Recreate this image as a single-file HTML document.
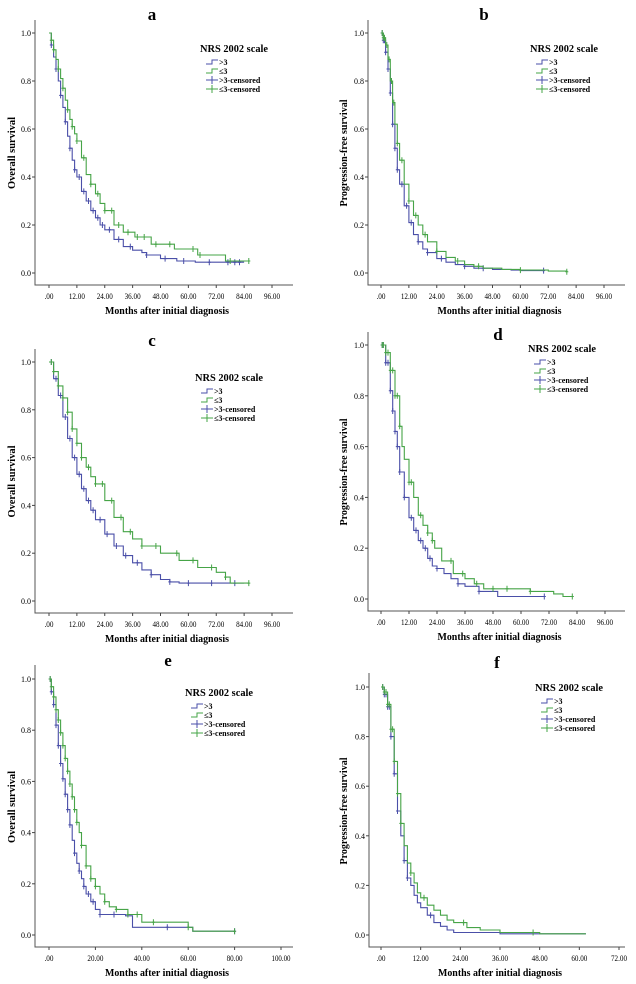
<!DOCTYPE html>
<html><head><meta charset="utf-8">
<style>
html,body{margin:0;padding:0;background:#fff;}
svg{display:block;font-family:"Liberation Serif",serif;}
</style></head>
<body>
<svg id="chart" width="636" height="984" viewBox="0 0 636 984" xmlns="http://www.w3.org/2000/svg"></svg>
<script>
// ---- data (time in months, survival probability) ----
const yTicks = ["0.0","0.2","0.4","0.6","0.8","1.0"];
const yTickVals = [0,0.2,0.4,0.6,0.8,1.0];
const xTicks96 = [0,12,24,36,48,60,72,84,96];
const xTicks100 = [0,20,40,60,80,100];
const xTicks72 = [0,12,24,36,48,60,72];

const aBlueT = [0,1,2,3,4,5,6,7,8,9,10,11,12,14,16,18,20,22,24,28,32,36,40,42,48,55,63,84];
const aBlueS = [1,0.95,0.9,0.85,0.8,0.74,0.69,0.63,0.57,0.52,0.47,0.43,0.4,0.34,0.3,0.26,0.23,0.2,0.18,0.14,0.11,0.095,0.085,0.075,0.06,0.05,0.045,0.045];
const aGreenT = [0,1,2,3,4,5,6,7,8,9,10,11,12,14,16,18,20,22,24,28,32,37,44,54,64,76,86];
const aGreenS = [1,0.97,0.93,0.89,0.85,0.81,0.77,0.72,0.68,0.64,0.61,0.58,0.55,0.48,0.41,0.37,0.33,0.29,0.26,0.2,0.17,0.15,0.12,0.1,0.075,0.05,0.05];
const aBlueC = [1,3,5,7,9,11,13,15,17,19,21,23,26,30,35,42,50,58,69,77,80,82];
const aGreenC = [1,2,4,6,8,10,12,15,18,21,24,27,30,34,38,41,46,52,62,65,78,86];

const bBlueT = [0,1,2,3,4,5,6,7,8,10,12,14,16,18,20,24,28,32,36,40,48,56,60,70];
const bBlueS = [1,0.97,0.92,0.85,0.75,0.62,0.52,0.43,0.37,0.28,0.21,0.16,0.13,0.1,0.085,0.06,0.045,0.035,0.028,0.02,0.015,0.012,0.01,0.01];
const bGreenT = [0,1,2,3,4,5,6,7,8,10,12,14,16,18,20,24,28,32,36,40,44,52,60,72,80];
const bGreenS = [1,0.98,0.95,0.89,0.8,0.71,0.62,0.54,0.47,0.37,0.3,0.24,0.2,0.16,0.13,0.09,0.065,0.05,0.035,0.028,0.02,0.015,0.012,0.008,0.005];
const bBlueC = [0.5,1,1.5,2,3,4,5,6,7,9,11,13,16,20,26,36,44,70];
const bGreenC = [0.5,1,1.5,2.5,3.5,4.5,5.5,7,9,12,15,19,24,33,42,60,80];

const cBlueT = [0,2,4,6,8,10,12,14,16,18,20,24,28,32,36,40,44,48,52,56,84];
const cBlueS = [1,0.93,0.86,0.77,0.68,0.6,0.53,0.47,0.42,0.38,0.34,0.28,0.23,0.19,0.16,0.13,0.11,0.09,0.08,0.075,0.075];
const cGreenT = [0,2,4,6,8,10,12,14,16,18,20,24,28,32,36,40,48,56,64,72,76,78,86];
const cGreenS = [1,0.96,0.9,0.85,0.79,0.72,0.66,0.6,0.56,0.52,0.49,0.42,0.35,0.29,0.26,0.23,0.2,0.17,0.14,0.12,0.1,0.075,0.075];
const cBlueC = [1,3,5,7,9,11,13,15,17,19,22,25,29,33,38,44,52,60,70,80];
const cGreenC = [1,2,4,6,8,10,12,14,17,20,23,27,31,35,40,46,55,62,70,76,86];

const dBlueT = [0,2,4,5,6,7,8,10,12,14,16,18,20,22,24,27,30,33,36,42,50,70];
const dBlueS = [1,0.93,0.82,0.74,0.66,0.6,0.5,0.4,0.32,0.27,0.23,0.2,0.16,0.13,0.12,0.1,0.08,0.06,0.05,0.03,0.01,0.01];
const dGreenT = [0,2,4,6,8,9,10,12,14,16,18,20,22,23,26,31,36,40,44,64,72,74,78,82];
const dGreenS = [1,0.97,0.9,0.8,0.68,0.6,0.55,0.46,0.4,0.33,0.29,0.26,0.23,0.2,0.15,0.1,0.08,0.06,0.04,0.03,0.03,0.02,0.01,0.01];
const dBlueC = [0.5,1,2,3,4,5,6,7,8,10,13,15,17,19,21,24,33,42,70];
const dGreenC = [0.5,1,2,3,4,5,6,7,8,12,13,17,20,22,30,35,41,48,54,64,82];

const eBlueT = [0,1,2,3,4,5,6,7,8,9,10,11,12,13,14,15,16,18,20,22,33,36,62,80];
const eBlueS = [1,0.95,0.9,0.82,0.74,0.67,0.61,0.55,0.49,0.43,0.37,0.32,0.28,0.25,0.22,0.19,0.16,0.13,0.1,0.08,0.075,0.03,0.015,0.015];
const eGreenT = [0,1,2,3,4,5,6,7,8,9,10,11,12,13,14,16,18,20,22,24,26,29,34,40,57,60,62,80];
const eGreenS = [1,0.97,0.93,0.88,0.84,0.79,0.74,0.69,0.64,0.59,0.54,0.49,0.44,0.4,0.35,0.27,0.22,0.19,0.16,0.13,0.11,0.1,0.08,0.05,0.05,0.03,0.015,0.015];
const eBlueC = [0.5,1,2,3,4,5,6,7,8,9,11,13,15,17,19,22,28,51,80];
const eGreenC = [0.5,1,2,3,4,5,6,7,8,9,10,11,12,14,16,18,20,24,29,34,38,45,60,80];

const fBlueT = [0,1,2,3,4,5,6,7,8,9,10,11,12,14,16,18,20,22,36,62];
const fBlueS = [1,0.97,0.92,0.8,0.65,0.5,0.4,0.3,0.23,0.2,0.16,0.13,0.11,0.08,0.05,0.035,0.02,0.01,0.005,0.005];
const fGreenT = [0,1,2,3,4,5,6,7,8,9,10,11,12,14,16,18,20,22,26,30,36,48,62];
const fGreenS = [1,0.98,0.93,0.83,0.7,0.57,0.45,0.36,0.29,0.25,0.21,0.17,0.15,0.12,0.1,0.08,0.06,0.05,0.03,0.02,0.01,0.005,0.005];
const fBlueC = [0.5,1,1.5,2,2.5,3,4,5,7,8,15];
const fGreenC = [0.5,1,1.5,2,2.5,3,3.5,4,5,6,9,13,25,46];

// ---- layout ----
const NS = "http://www.w3.org/2000/svg";
const svg = document.getElementById('chart');
const BLUE = "#4a4fa8", GREEN = "#46a447";

const panels = [
 {id:'a', title:'a', tx:152, ty:20, ylab:'Overall survival', ylx:11, x0:49, xs:223/96, xmax:96, ticks:xTicks96, yTop:33, yBot:273, axL:35, axR:293, axTop:20, lx:200, ly:49, bT:aBlueT,bS:aBlueS,gT:aGreenT,gS:aGreenS,bC:aBlueC,gC:aGreenC},
 {id:'b', title:'b', tx:484, ty:20, ylab:'Progression-free survival', ylx:343, x0:381, xs:223/96, xmax:96, ticks:xTicks96, yTop:33, yBot:273, axL:368, axR:625, axTop:20, lx:530, ly:49, bT:bBlueT,bS:bBlueS,gT:bGreenT,gS:bGreenS,bC:bBlueC,gC:bGreenC},
 {id:'c', title:'c', tx:152, ty:346, ylab:'Overall survival', ylx:11, x0:49, xs:223/96, xmax:96, ticks:xTicks96, yTop:362, yBot:601, axL:35, axR:293, axTop:349, lx:195, ly:378, bT:cBlueT,bS:cBlueS,gT:cGreenT,gS:cGreenS,bC:cBlueC,gC:cGreenC},
 {id:'d', title:'d', tx:498, ty:340, ylab:'Progression-free survival', ylx:343, x0:381, xs:224/96, xmax:96, ticks:xTicks96, yTop:345, yBot:599, axL:368, axR:625, axTop:332, lx:528, ly:349, bT:dBlueT,bS:dBlueS,gT:dGreenT,gS:dGreenS,bC:dBlueC,gC:dGreenC},
 {id:'e', title:'e', tx:168, ty:666, ylab:'Overall survival', ylx:11, x0:49, xs:232/100, xmax:100, ticks:xTicks100, yTop:679, yBot:935, axL:35, axR:293, axTop:665, lx:185, ly:693, bT:eBlueT,bS:eBlueS,gT:eGreenT,gS:eGreenS,bC:eBlueC,gC:eGreenC},
 {id:'f', title:'f', tx:497, ty:668, ylab:'Progression-free survival', ylx:343, x0:381, xs:238/72, xmax:72, ticks:xTicks72, yTop:687, yBot:935, axL:369, axR:625, axTop:673, lx:535, ly:688, bT:fBlueT,bS:fBlueS,gT:fGreenT,gS:fGreenS,bC:fBlueC,gC:fGreenC}
];

function mk(tag, attrs, parent){
  const el = document.createElementNS(NS, tag);
  for (const k in attrs) el.setAttribute(k, attrs[k]);
  (parent||svg).appendChild(el);
  return el;
}
function survAt(T,S,t){ let s=S[0]; for(let i=0;i<T.length;i++){ if(T[i]<=t) s=S[i]; } return s; }

panels.forEach(p=>{
  const X = t => p.x0 + t*p.xs;
  const Y = s => p.yBot - s*(p.yBot-p.yTop);
  const g = mk('g', {});
  
  

  const title = mk('text', {x:p.tx, y:p.ty, 'font-size':17, 'font-weight':'bold', 'text-anchor':'middle'}, g);
  title.textContent = p.title;
  
  

  // axes
  const axY = p.yBot + 12;
  const ax = mk('path', {d:`M${p.axL} ${p.axTop} V${axY} H${p.axR}`, stroke:'#555', fill:'none', 'stroke-width':1}, g);
  
  

  yTickVals.forEach((v,i)=>{
    const yy = Y(v);
    mk('line', {x1:p.axL-3, x2:p.axL, y1:yy, y2:yy, stroke:'#444'}, g);
    const t = mk('text', {x:p.axL-4, y:yy+3, 'font-size':8, 'text-anchor':'end'}, g);
    t.textContent = yTicks[i];
    
    
  });
  p.ticks.forEach(v=>{
    const xx = X(v);
    mk('line', {x1:xx, x2:xx, y1:axY, y2:axY+3, stroke:'#444'}, g);
    const t = mk('text', {x:xx, y:axY+14, 'font-size':8, 'text-anchor':'middle', textLength:(v===0?9:v>=100?19:16), lengthAdjust:'spacingAndGlyphs'}, g);
    t.textContent = (v===0?'':'') + (v===0?'.00':v.toFixed(2));
    
    
  });
  const xl = mk('text', {x:(p.axL+p.axR)/2+3, y:p.yBot+41, 'font-size':11, 'font-weight':'bold', 'text-anchor':'middle', textLength:124, lengthAdjust:'spacingAndGlyphs'}, g);
  xl.textContent = 'Months after initial diagnosis';
  
  
  const cy = (p.yTop+p.yBot)/2;
  const ylen = p.ylab.length>20 ? 107 : 72;
  const yl = mk('text', {x:0, y:0, transform:`translate(${p.ylx+4},${cy}) rotate(-90)`, 'font-size':11, 'font-weight':'bold', 'text-anchor':'middle', textLength:ylen, lengthAdjust:'spacingAndGlyphs'}, g);
  yl.textContent = p.ylab;
  
  

  // curves
  [[p.bT,p.bS,p.bC,BLUE,'gt3'],[p.gT,p.gS,p.gC,GREEN,'le3']].forEach(([T,S,C,col,nm])=>{
    let d = `M${X(T[0]).toFixed(1)} ${Y(S[0]).toFixed(1)}`;
    for(let i=1;i<T.length;i++) d += ` H${X(T[i]).toFixed(1)} V${Y(S[i]).toFixed(1)}`;
    const path = mk('path', {d, stroke:col, fill:'none', 'stroke-width':1.1}, g);
    
    
    C.forEach(c=>{
      const xx = X(c), yy = Y(survAt(T,S,c));
      const m = mk('path', {d:`M${xx.toFixed(1)} ${(yy-3).toFixed(1)} V${(yy+3).toFixed(1)} M${(xx-1.5).toFixed(1)} ${yy.toFixed(1)} H${(xx+1.5).toFixed(1)}`, stroke:col, 'stroke-width':1}, g);
      
      
    });
  });

  // legend
  const lg = mk('g', {}, g);
  
  
  const lt = mk('text', {x:p.lx, y:p.ly+3, 'font-size':10, 'font-weight':'bold', textLength:68, lengthAdjust:'spacingAndGlyphs'}, lg);
  lt.textContent = 'NRS 2002 scale';
  
  
  const labels = ['>3','≤3','>3-censored','≤3-censored'];
  const cols = [BLUE,GREEN,BLUE,GREEN];
  labels.forEach((lab,i)=>{
    const ey = p.ly + 13 + i*9;
    const ix = p.lx + 6;
    if(i<2){
      mk('path', {d:`M${ix} ${ey+2} H${ix+6} V${ey-2} H${ix+12}`, stroke:cols[i], fill:'none'}, lg);
    } else {
      mk('path', {d:`M${ix} ${ey} H${ix+12} M${ix+6} ${ey-4} V${ey+4}`, stroke:cols[i], fill:'none'}, lg);
    }
    const t = mk('text', {x:ix+13, y:ey+3, 'font-size':8, 'font-weight':'bold'}, lg);
    t.textContent = lab;
    
    
  });
});
</script>
</body></html>
